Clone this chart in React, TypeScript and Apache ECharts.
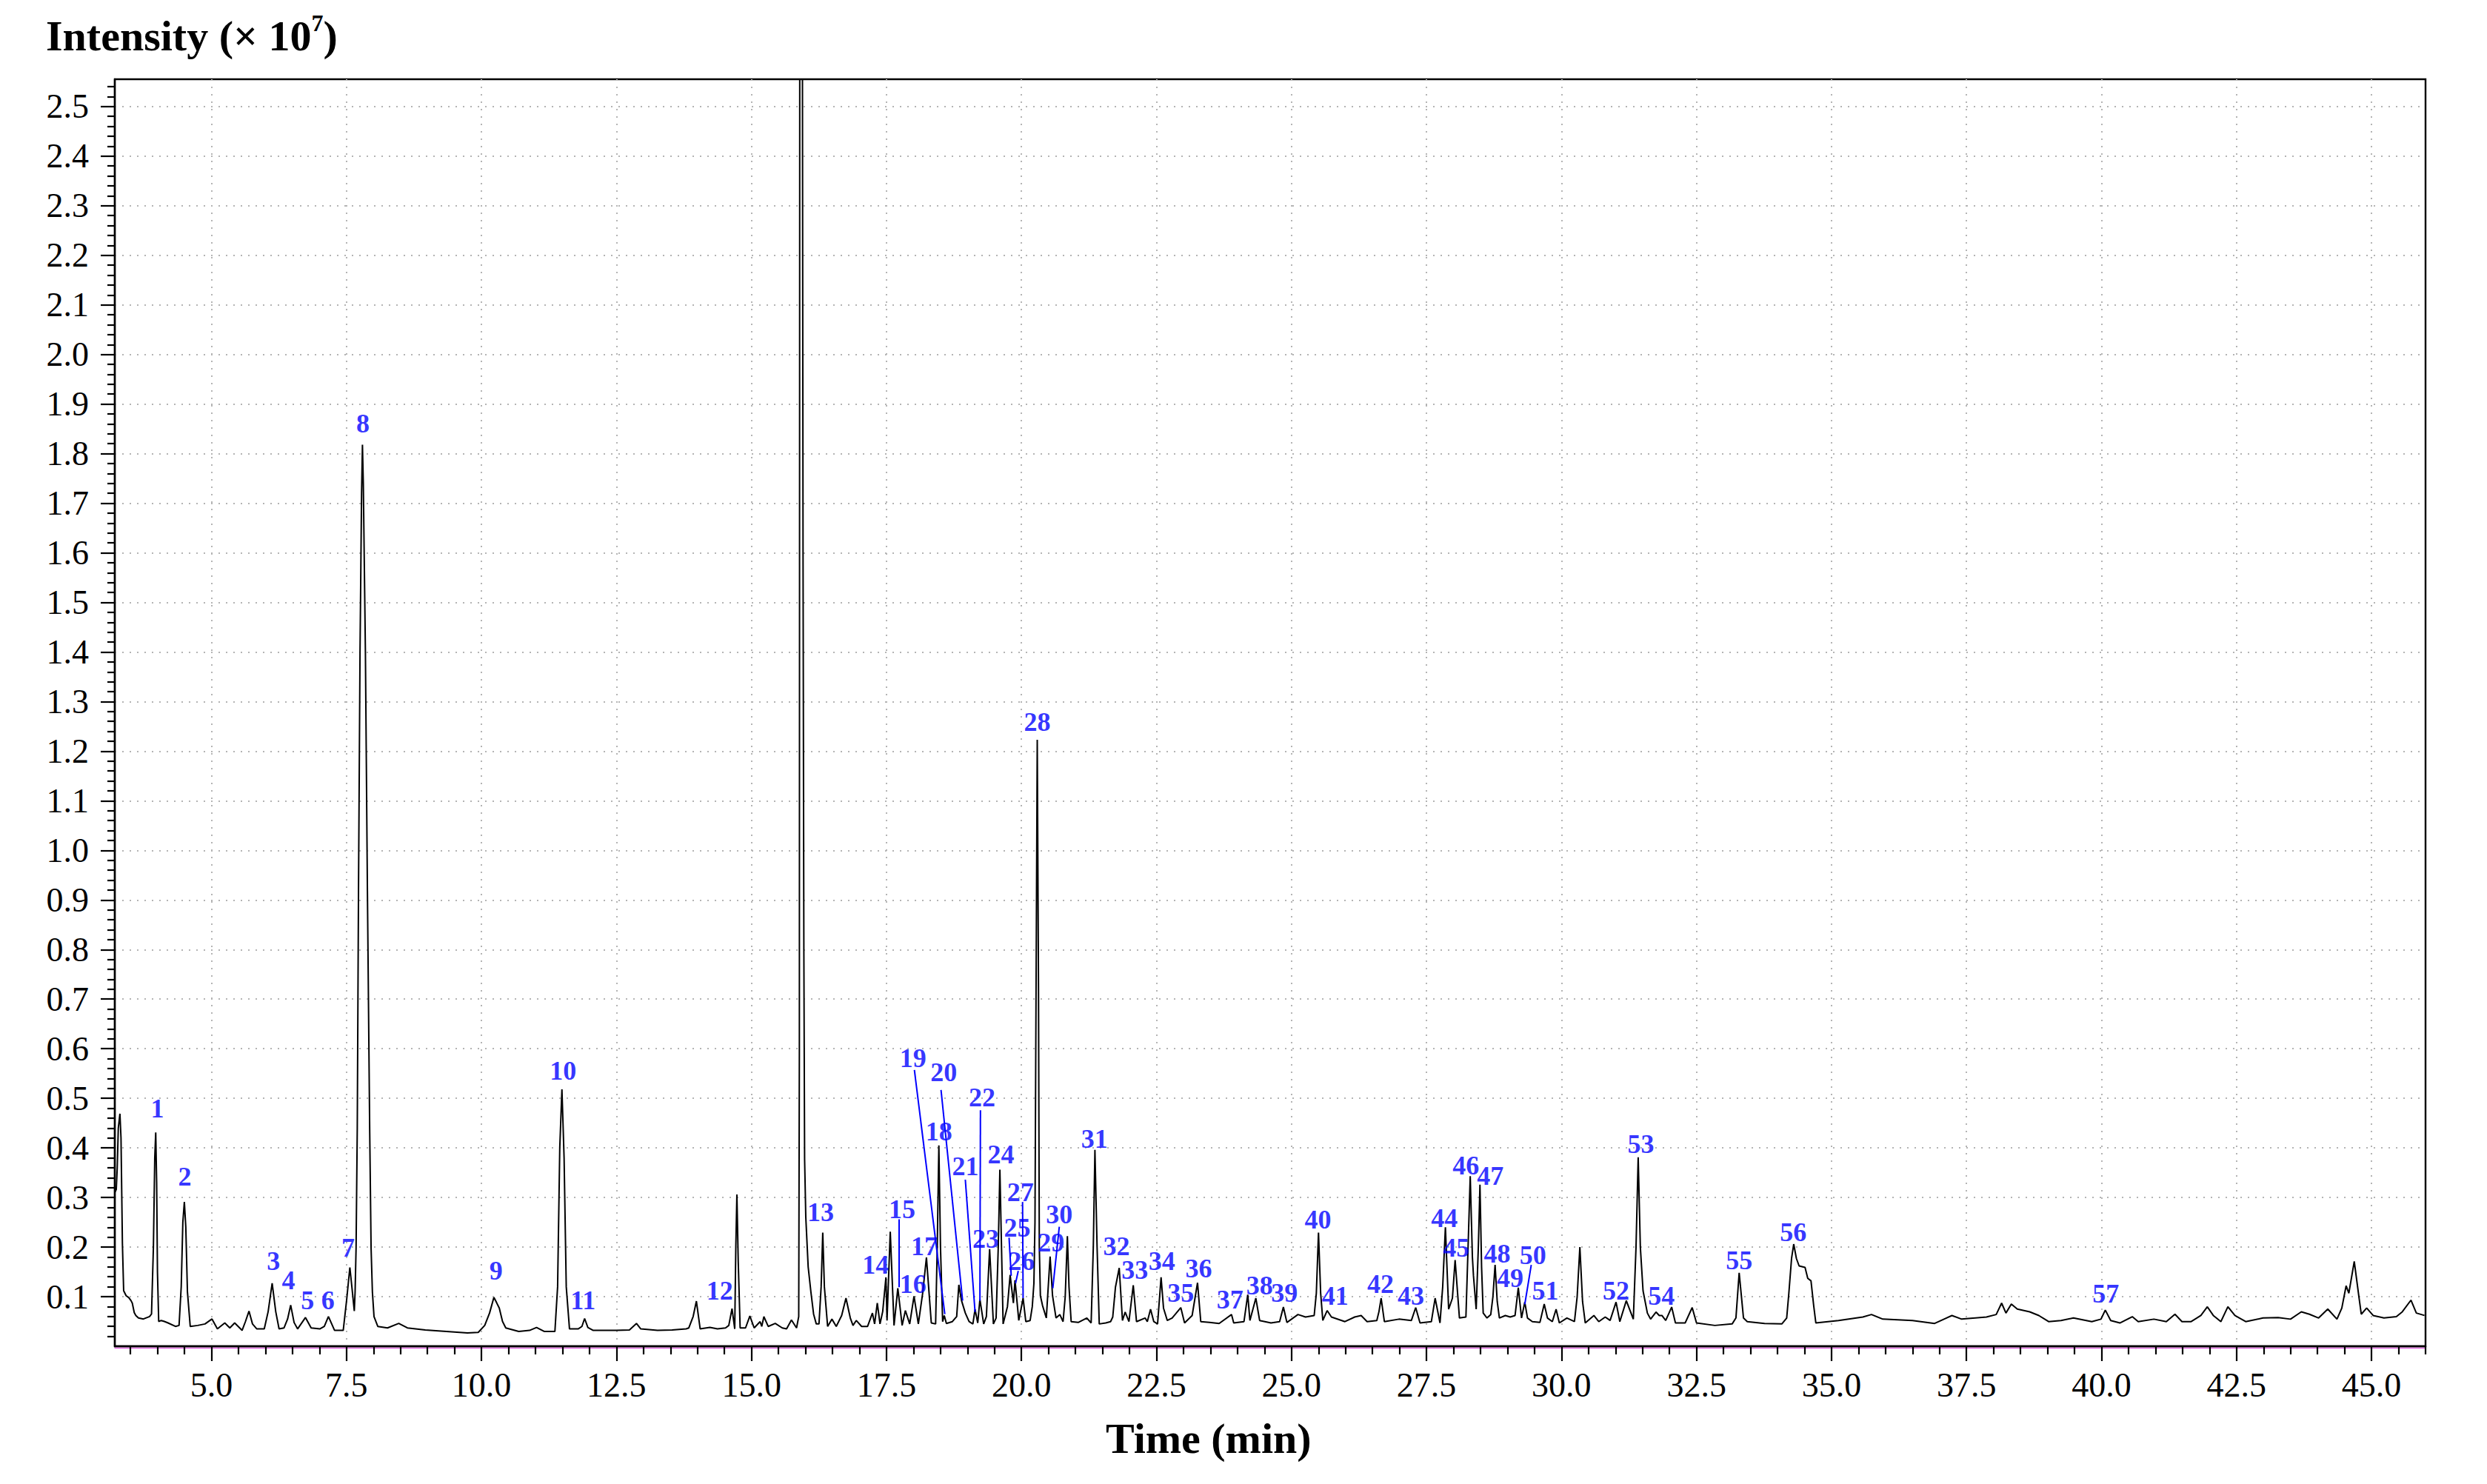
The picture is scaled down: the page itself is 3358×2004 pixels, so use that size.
import React, { useEffect, useRef } from 'react';
import * as echarts from 'echarts';

// Total ion chromatogram: [time (min), intensity (x10^7)]
const traceSeg1: [number, number][] = [
  [3.214, 0.311], [3.237, 0.316], [3.255, 0.36], [3.275, 0.44], [3.305, 0.469], [3.325, 0.42], [3.351, 0.207],
  [3.374, 0.112], [3.42, 0.102], [3.47, 0.098], [3.51, 0.092], [3.534, 0.087], [3.57, 0.068], [3.6, 0.062],
  [3.648, 0.057], [3.74, 0.055], [3.854, 0.06], [3.89, 0.065], [3.925, 0.2], [3.95, 0.38], [3.968, 0.431],
  [3.985, 0.33], [4.0, 0.15], [4.023, 0.05], [4.07, 0.052], [4.128, 0.05], [4.196, 0.047], [4.333, 0.04],
  [4.4, 0.042], [4.44, 0.12], [4.47, 0.25], [4.498, 0.291], [4.525, 0.24], [4.555, 0.11], [4.607, 0.04],
  [4.745, 0.042], [4.88, 0.045], [5.01, 0.055], [5.11, 0.035], [5.247, 0.047], [5.34, 0.037], [5.43, 0.047],
  [5.567, 0.032], [5.63, 0.05], [5.695, 0.071], [5.76, 0.045], [5.84, 0.035], [5.978, 0.035], [6.05, 0.07],
  [6.124, 0.127], [6.19, 0.07], [6.252, 0.035], [6.344, 0.037], [6.41, 0.055], [6.467, 0.083], [6.53, 0.048],
  [6.595, 0.035], [6.741, 0.058], [6.846, 0.037], [7.006, 0.035], [7.09, 0.04], [7.166, 0.06], [7.28, 0.032],
  [7.44, 0.032], [7.5, 0.09], [7.563, 0.159], [7.6, 0.12], [7.645, 0.071], [7.66, 0.11], [7.678, 0.198],
  [7.7, 0.438], [7.723, 0.918], [7.751, 1.398], [7.78, 1.72], [7.796, 1.818], [7.812, 1.74], [7.851, 1.398],
  [7.888, 0.918], [7.93, 0.438], [7.956, 0.198], [7.98, 0.11], [8.01, 0.06], [8.08, 0.04], [8.26, 0.037],
  [8.468, 0.046], [8.628, 0.037],
];

const traceSeg2: [number, number][] = [
  [8.96, 0.033], [9.35, 0.03], [9.74, 0.027], [9.94, 0.028], [10.06, 0.042], [10.15, 0.067], [10.23, 0.0985],
  [10.28, 0.088], [10.33, 0.077], [10.39, 0.05], [10.45, 0.037], [10.69, 0.03], [10.89, 0.032], [11.02, 0.038],
  [11.16, 0.03], [11.36, 0.03], [11.41, 0.12], [11.45, 0.4], [11.49, 0.518], [11.53, 0.38], [11.57, 0.12],
  [11.63, 0.035], [11.79, 0.035], [11.86, 0.04], [11.91, 0.056], [11.97, 0.038], [12.07, 0.032], [12.5, 0.032],
  [12.74, 0.033], [12.87, 0.046], [12.95, 0.035], [13.26, 0.032], [13.53, 0.033], [13.79, 0.035], [13.84, 0.037],
  [13.92, 0.06], [13.98, 0.091], [14.05, 0.035], [14.23, 0.038], [14.37, 0.035], [14.52, 0.037], [14.58, 0.042],
  [14.64, 0.076], [14.69, 0.035], [14.71, 0.2], [14.73, 0.306], [14.755, 0.17], [14.79, 0.037], [14.89, 0.037],
  [14.97, 0.061], [15.05, 0.037], [15.16, 0.0497], [15.19, 0.04], [15.23, 0.0597], [15.31, 0.04], [15.44, 0.046],
  [15.57, 0.037], [15.65, 0.035], [15.74, 0.053], [15.835, 0.037],
];

const traceSeg3: [number, number][] = [
  [15.875, 0.06], [15.887, 0.6], [15.895, 2.9], [15.94, 2.9], [15.955, 1.6], [15.97, 0.8], [15.984, 0.377],
  [16.006, 0.26], [16.05, 0.16], [16.1, 0.11], [16.15, 0.065], [16.2, 0.045], [16.25, 0.045], [16.29, 0.12],
  [16.32, 0.229], [16.35, 0.12], [16.41, 0.04], [16.49, 0.0547], [16.57, 0.04], [16.67, 0.062], [16.75, 0.097],
  [16.83, 0.057], [16.88, 0.042], [16.94, 0.052], [17.04, 0.04], [17.15, 0.04], [17.24, 0.067], [17.28, 0.045],
  [17.33, 0.087], [17.38, 0.045], [17.43, 0.07], [17.49, 0.139], [17.51, 0.052], [17.57, 0.231], [17.64, 0.042],
  [17.71, 0.117], [17.79, 0.042], [17.85, 0.072], [17.93, 0.045], [18.01, 0.101], [18.09, 0.045], [18.17, 0.107],
  [18.24, 0.179], [18.33, 0.047], [18.41, 0.045], [18.44, 0.2], [18.47, 0.405], [18.5, 0.2], [18.54, 0.0497],
  [18.57, 0.062], [18.61, 0.046], [18.72, 0.0497], [18.8, 0.06], [18.84, 0.124], [18.89, 0.092], [18.96, 0.067],
  [19.03, 0.0497], [19.1, 0.045], [19.14, 0.0746], [19.19, 0.047], [19.23, 0.0945], [19.3, 0.045], [19.35, 0.06],
  [19.41, 0.196], [19.48, 0.045], [19.53, 0.057], [19.57, 0.2], [19.6, 0.356], [19.63, 0.2], [19.66, 0.045],
  [19.74, 0.08], [19.79, 0.144], [19.85, 0.087], [19.88, 0.133], [19.95, 0.052], [20.03, 0.097], [20.08, 0.0497],
  [20.16, 0.052], [20.2, 0.08], [20.23, 0.127], [20.25, 0.25], [20.27, 0.72], [20.292, 1.223], [20.315, 0.72],
  [20.33, 0.2], [20.35, 0.102], [20.39, 0.082], [20.46, 0.057],
];

const traceSeg4: [number, number][] = [
  [20.53, 0.181], [20.575, 0.102], [20.64, 0.057], [20.71, 0.064], [20.77, 0.0497], [20.81, 0.1], [20.85, 0.222],
  [20.88, 0.12], [20.92, 0.0497], [21.05, 0.048], [21.21, 0.057], [21.29, 0.047], [21.33, 0.2], [21.36, 0.396],
  [21.4, 0.2], [21.44, 0.045], [21.56, 0.047], [21.65, 0.0497], [21.69, 0.059], [21.74, 0.119], [21.81, 0.158],
  [21.87, 0.052], [21.92, 0.069], [21.99, 0.0497], [22.07, 0.123], [22.13, 0.0497], [22.29, 0.057], [22.33, 0.0497],
  [22.39, 0.0746], [22.45, 0.0497], [22.52, 0.045], [22.585, 0.139], [22.63, 0.077], [22.7, 0.052], [22.79, 0.057],
  [22.95, 0.078], [23.02, 0.047], [23.16, 0.062], [23.26, 0.128], [23.32, 0.0497], [23.48, 0.048], [23.66, 0.046],
  [23.89, 0.064], [23.93, 0.047], [24.12, 0.0497], [24.19, 0.104], [24.23, 0.052], [24.34, 0.097], [24.41, 0.052],
  [24.62, 0.047], [24.78, 0.0497], [24.85, 0.079], [24.915, 0.048], [25.12, 0.064], [25.26, 0.059], [25.42, 0.062],
  [25.46, 0.107], [25.5, 0.229], [25.54, 0.107], [25.58, 0.052], [25.66, 0.072], [25.74, 0.059], [25.99, 0.0497],
  [26.17, 0.059], [26.29, 0.062], [26.4, 0.0497],
];

const traceSeg5: [number, number][] = [
  [26.58, 0.052], [26.62, 0.07], [26.66, 0.097], [26.72, 0.0497], [26.99, 0.0547], [27.22, 0.052], [27.3, 0.078],
  [27.38, 0.047], [27.59, 0.0497], [27.66, 0.097], [27.75, 0.047], [27.8, 0.12], [27.85, 0.24], [27.91, 0.0746],
  [27.98, 0.097], [28.03, 0.174], [28.11, 0.057], [28.23, 0.059], [28.27, 0.2], [28.31, 0.343], [28.35, 0.18],
  [28.37, 0.142], [28.42, 0.0746], [28.46, 0.2], [28.49, 0.326], [28.52, 0.16], [28.55, 0.067], [28.62, 0.057],
  [28.69, 0.064], [28.73, 0.1], [28.77, 0.164], [28.81, 0.09], [28.85, 0.057], [28.96, 0.062], [29.05, 0.059],
  [29.14, 0.062], [29.2, 0.118], [29.26, 0.057], [29.32, 0.089], [29.37, 0.057], [29.46, 0.0497], [29.6, 0.048],
  [29.68, 0.085], [29.74, 0.057], [29.83, 0.0497], [29.9, 0.0746], [29.96, 0.047], [30.1, 0.057], [30.24, 0.0497],
  [30.29, 0.1], [30.34, 0.2], [30.39, 0.09], [30.44, 0.047], [30.6, 0.062], [30.69, 0.0497], [30.81, 0.059],
  [30.9, 0.052], [31.01, 0.089], [31.08, 0.0497], [31.2, 0.092], [31.27, 0.072], [31.33, 0.0547], [31.38, 0.2],
  [31.42, 0.381], [31.46, 0.2], [31.51, 0.112], [31.59, 0.067], [31.65, 0.0547], [31.75, 0.069], [31.81, 0.062],
  [31.86, 0.062], [31.93, 0.052], [32.04, 0.079], [32.11, 0.047], [32.29, 0.047], [32.42, 0.078], [32.5, 0.047],
];

const traceSeg6: [number, number][] = [
  [32.84, 0.042], [33.16, 0.045], [33.23, 0.057], [33.29, 0.148], [33.37, 0.057], [33.44, 0.0497], [33.76, 0.046],
  [34.08, 0.045], [34.17, 0.057], [34.21, 0.107], [34.26, 0.177], [34.3, 0.206], [34.35, 0.177], [34.4, 0.162],
  [34.51, 0.159], [34.56, 0.137], [34.62, 0.132], [34.67, 0.082], [34.71, 0.047], [35.13, 0.052], [35.58, 0.059],
  [35.74, 0.064], [35.95, 0.0547], [36.5, 0.052], [36.91, 0.046], [37.23, 0.062], [37.41, 0.0547], [37.87, 0.059],
  [38.05, 0.064], [38.15, 0.087], [38.23, 0.067], [38.33, 0.085], [38.44, 0.075], [38.67, 0.0695], [38.84, 0.062],
  [39.02, 0.0497], [39.25, 0.052], [39.48, 0.057], [39.82, 0.0497], [39.99, 0.0547], [40.07, 0.073], [40.17, 0.052],
  [40.34, 0.047], [40.57, 0.0596], [40.68, 0.0497], [40.97, 0.0547], [41.2, 0.0497], [41.36, 0.0646], [41.49, 0.0497],
  [41.66, 0.0497], [41.84, 0.0621], [41.96, 0.0796], [42.07, 0.0621], [42.21, 0.0497], [42.34, 0.0796], [42.47, 0.0621],
  [42.67, 0.0497], [42.99, 0.057], [43.27, 0.058], [43.5, 0.0547], [43.7, 0.0695], [43.85, 0.0646], [44.02, 0.057],
  [44.19, 0.075], [44.36, 0.0547], [44.45, 0.0771], [44.53, 0.122], [44.58, 0.107], [44.68, 0.171], [44.77, 0.097],
  [44.81, 0.0646], [44.91, 0.0771], [45.03, 0.0621], [45.23, 0.057], [45.46, 0.0596], [45.57, 0.0695], [45.73, 0.093],
  [45.83, 0.067], [45.98, 0.0621],
];

// Peak number labels 1..57 (label centre: time, intensity)
const peakLabelTimes = [
  4.0, 4.507, 6.147, 6.426, 6.78, 7.157, 7.531, 7.806, 10.27, 11.51,
  11.88, 14.41, 16.28, 17.3, 17.79, 17.99, 18.2, 18.47, 17.99, 18.56,
  18.96, 19.27, 19.34, 19.62, 19.92, 20.0, 19.98, 20.29, 20.55, 20.7,
  21.35, 21.76, 22.1, 22.6, 22.95, 23.28, 23.86, 24.41, 24.87, 25.49,
  25.81, 26.65, 27.21, 27.83, 28.05, 28.23, 28.68, 28.81, 29.05, 29.47,
  29.7, 31.01, 31.47, 31.85, 33.29, 34.29, 40.08,
];
const peakLabelIntensities = [
  0.48, 0.342, 0.171, 0.133, 0.092, 0.092, 0.199, 1.86, 0.152, 0.556,
  0.092, 0.112, 0.271, 0.164, 0.276, 0.126, 0.201, 0.433, 0.581, 0.552,
  0.363, 0.501, 0.216, 0.387, 0.239, 0.172, 0.311, 1.259, 0.209, 0.266,
  0.418, 0.202, 0.154, 0.171, 0.107, 0.157, 0.094, 0.122, 0.107, 0.256,
  0.102, 0.126, 0.101, 0.259, 0.199, 0.364, 0.343, 0.186, 0.137, 0.184,
  0.112, 0.112, 0.408, 0.101, 0.173, 0.23, 0.106,
];

// Leader lines from label to peak: [t start, I start, t end, I end]
const leaderLines: [number, number, number, number][] = [
  [17.73, 0.256, 17.73, 0.119],
  [18.017, 0.557, 18.58, 0.0646],
  [18.51, 0.517, 18.91, 0.092],
  [18.96, 0.336, 19.14, 0.069],
  [19.24, 0.476, 19.23, 0.092],
  [19.77, 0.219, 19.81, 0.142],
  [19.94, 0.152, 19.89, 0.127],
  [20.02, 0.291, 20.03, 0.097],
  [20.7, 0.241, 20.58, 0.117],
  [29.44, 0.164, 29.32, 0.0845],
];

const xTickValues = [5.0, 7.5, 10.0, 12.5, 15.0, 17.5, 20.0, 22.5, 25.0, 27.5, 30.0, 32.5, 35.0, 37.5, 40.0, 42.5, 45.0];
const yTickValues = [
  0.1, 0.2, 0.3, 0.4, 0.5, 0.6, 0.7, 0.8, 0.9, 1.0, 1.1, 1.2, 1.3,
  1.4, 1.5, 1.6, 1.7, 1.8, 1.9, 2.0, 2.1, 2.2, 2.3, 2.4, 2.5,
];

const X_MIN = 3.21;
const X_MAX = 46.0;
const Y_MIN = 0;
const Y_MAX = 2.555;

const SERIF = '"Liberation Serif", "Times New Roman", serif';
const BLUE = '#0000ff';

function minorTicks(step: number, from: number, to: number, every: number): number[] {
  const out: number[] = [];
  for (let k = from; k <= to; k++) {
    if (k % every !== 0) out.push(Math.round(k * step * 1000) / 1000);
  }
  return out;
}

export default function App() {
  const ref = useRef<HTMLDivElement>(null);

  useEffect(() => {
    if (!ref.current) return;
    const chart = echarts.init(ref.current, undefined, { renderer: 'svg' });

    const trace = [...traceSeg1, ...traceSeg2, ...traceSeg3, ...traceSeg4, ...traceSeg5, ...traceSeg6];
    const xMinor = minorTicks(0.5, 7, 92, 5);
    const yMinor = minorTicks(0.02, 1, 127, 5);

    const tickLine = { color: '#000', width: 2.2 };
    const gridDots = { color: '#b4b4b4', width: 2, type: [2, 8] as number[] };

    chart.setOption({
      animation: false,
      backgroundColor: '#ffffff',
      title: [
        {
          text: '{a|Intensity (× 10}{s|7}{a|)}',
          left: 62,
          top: 15,
          padding: 0,
          textStyle: {
            rich: {
              a: { fontFamily: SERIF, fontSize: 58, fontWeight: 'bold', color: '#000', lineHeight: 66 },
              s: { fontFamily: SERIF, fontSize: 32, fontWeight: 'bold', color: '#000', lineHeight: 44, verticalAlign: 'top' },
            },
          },
        },
        {
          text: 'Time (min)',
          left: 1493,
          top: 1909,
          padding: 0,
          textStyle: { fontFamily: SERIF, fontSize: 58, fontWeight: 'bold', color: '#000', lineHeight: 66 },
        },
      ],
      grid: {
        left: 155,
        right: 83,
        top: 107,
        bottom: 186,
        show: true,
        borderColor: '#000',
        borderWidth: 2.4,
        backgroundColor: 'transparent',
        containLabel: false,
      },
      xAxis: [
        {
          type: 'value',
          min: X_MIN,
          max: X_MAX,
          position: 'bottom',
          axisLine: { show: true, onZero: false, lineStyle: { color: '#000', width: 2.4 } },
          axisTick: { show: true, customValues: xTickValues, length: 20, inside: false, lineStyle: tickLine },
          axisLabel: {
            show: true,
            customValues: xTickValues,
            formatter: (v: number) => v.toFixed(1),
            fontFamily: SERIF,
            fontSize: 46,
            color: '#000',
            margin: 29,
          },
          splitLine: { show: true, customValues: xTickValues, lineStyle: gridDots },
          minorTick: { show: false },
        },
        {
          type: 'value',
          min: X_MIN,
          max: X_MAX,
          position: 'bottom',
          axisLine: { show: false, onZero: false },
          axisTick: { show: true, customValues: xMinor, length: 11, lineStyle: tickLine },
          axisLabel: { show: false },
          splitLine: { show: false },
        },
        {
          type: 'value',
          min: X_MIN,
          max: X_MAX,
          position: 'bottom',
          offset: 2,
          axisLine: { show: true, onZero: false, lineStyle: { color: '#e040e0', width: 1.2 } },
          axisTick: { show: false },
          axisLabel: { show: false },
          splitLine: { show: false },
        },
      ],
      yAxis: [
        {
          type: 'value',
          min: Y_MIN,
          max: Y_MAX,
          position: 'left',
          axisLine: { show: true, onZero: false, lineStyle: { color: '#000', width: 2.4 } },
          axisTick: { show: true, customValues: yTickValues, length: 19, lineStyle: tickLine },
          axisLabel: {
            show: true,
            customValues: yTickValues,
            formatter: (v: number) => v.toFixed(1),
            fontFamily: SERIF,
            fontSize: 46,
            color: '#000',
            margin: 35,
          },
          splitLine: { show: true, customValues: yTickValues, lineStyle: gridDots },
          minorTick: { show: false },
        },
        {
          type: 'value',
          min: Y_MIN,
          max: Y_MAX,
          position: 'left',
          axisLine: { show: false, onZero: false },
          axisTick: { show: true, customValues: yMinor, length: 10, lineStyle: tickLine },
          axisLabel: { show: false },
          splitLine: { show: false },
        },
      ],
      series: [
        {
          type: 'line',
          xAxisIndex: 0,
          yAxisIndex: 0,
          data: trace,
          showSymbol: false,
          symbol: 'none',
          clip: true,
          silent: true,
          lineStyle: { color: '#000', width: 2 },
          z: 3,
        },
        {
          type: 'lines',
          coordinateSystem: 'cartesian2d',
          xAxisIndex: 0,
          yAxisIndex: 0,
          silent: true,
          data: leaderLines.map((l) => ({ coords: [[l[0], l[1]], [l[2], l[3]]] })),
          lineStyle: { color: BLUE, width: 2, opacity: 1, curveness: 0 },
          z: 4,
        },
        {
          type: 'scatter',
          xAxisIndex: 0,
          yAxisIndex: 0,
          silent: true,
          symbolSize: 1,
          itemStyle: { color: 'rgba(0,0,0,0)' },
          data: peakLabelTimes.map((t, i) => ({ value: [t, peakLabelIntensities[i]], name: String(i + 1) })),
          label: {
            show: true,
            position: 'inside',
            formatter: '{b}',
            fontFamily: SERIF,
            fontSize: 36,
            fontWeight: 'bold',
            color: BLUE,
          },
          z: 5,
        },
      ],
    });

    return () => {
      chart.dispose();
    };
  }, []);

  return (
    <div
      ref={ref}
      style={{ position: 'fixed', left: 0, top: 0, width: 3358, height: 2004, background: '#fff' }}
    />
  );
}
